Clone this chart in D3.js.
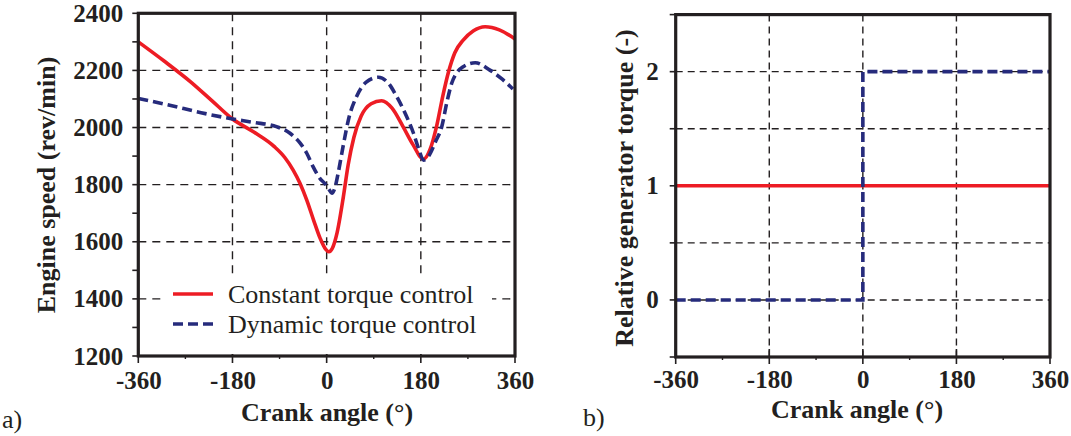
<!DOCTYPE html>
<html>
<head>
<meta charset="utf-8">
<script src="https://cdn.jsdelivr.net/npm/d3@7"></script>
<style>
  body { margin: 0; background: #fff; }
  svg { display: block; font-family: "Liberation Serif", "Times New Roman", serif; }
</style>
</head>
<body>
<svg id="chart" width="1071" height="436"></svg>
<script>
// Crank angle ticks shared by both panels
const crankTicks = [-360, -180, 0, 180, 360];
const crankMinor = [-270, -90, 90, 270];
const speedTicks = [1200, 1400, 1600, 1800, 2000, 2200, 2400];
const torqueTicks = [0, 1, 2];

const seriesNames = ["Constant torque control", "Dynamic torque control"];

// panel a) engine speed [crank angle, rev/min]
const constantSpeed = [
  [-360, 2300], [-310, 2232], [-260, 2160], [-220, 2095], [-180, 2030],
  [-140, 1985], [-100, 1933], [-80, 1895], [-64, 1851], [-51, 1805],
  [-38, 1746], [-25, 1676], [-12, 1610], [-2, 1574], [4, 1565],
  [12, 1582], [20, 1632], [32, 1758], [41, 1868], [52, 1965],
  [66, 2040], [85, 2083], [105, 2094], [125, 2068], [146, 2003],
  [165, 1940], [185, 1889], [198, 1925], [210, 2003], [222, 2110],
  [233, 2195], [245, 2262], [261, 2306], [280, 2338], [303, 2353],
  [330, 2342], [360, 2310]
];
const dynamicSpeed = [
  [-360, 2102], [-300, 2078], [-240, 2052], [-180, 2030], [-140, 2018],
  [-96, 2003], [-70, 1980], [-51, 1946], [-38, 1910], [-26, 1863],
  [-13, 1822], [-3, 1803], [4, 1785], [10, 1770], [16, 1790],
  [22, 1840], [32, 1940], [42, 2030], [57, 2108], [75, 2158],
  [99, 2176], [118, 2155], [134, 2108], [150, 2050], [166, 1980],
  [176, 1925], [185, 1886], [195, 1900], [208, 1950], [220, 2003],
  [230, 2090], [239, 2155], [250, 2195], [261, 2213], [284, 2227],
  [312, 2201], [335, 2170], [356, 2135]
];

// panel b) relative generator torque
const constantTorque = [[-360, 1], [360, 1]];
const dynamicTorque = [[-360, 0], [0, 0], [0, 2], [360, 2]];

const red = "#ed1c24";
const blue = "#262b7c";
const ink = "#231f20";

const svg = d3.select("#chart");

function panel(o) {
  const x = d3.scaleLinear().domain([-360, 360]).range(o.xr);
  const y = d3.scaleLinear().domain(o.yd).range(o.yr);
  const g = svg.append("g");

  // grid
  g.selectAll(".vgrid").data([-180, 0, 180]).enter().append("line")
    .attr("x1", d => x(d)).attr("x2", d => x(d))
    .attr("y1", o.yr[1]).attr("y2", o.yr[0])
    .attr("stroke", ink).attr("stroke-width", 1.4)
    .attr("stroke-dasharray", o.dash);
  g.selectAll(".hgrid").data(o.hgrid).enter().append("line")
    .attr("x1", o.xr[0]).attr("x2", o.xr[1])
    .attr("y1", d => y(d)).attr("y2", d => y(d))
    .attr("stroke", ink).attr("stroke-width", 1.4)
    .attr("stroke-dasharray", o.dash);

  // y ticks (outward)
  g.selectAll(".ytick").data(o.yAll).enter().append("line")
    .attr("x1", o.xr[0] - 6).attr("x2", o.xr[0])
    .attr("y1", d => y(d)).attr("y2", d => y(d))
    .attr("stroke", ink).attr("stroke-width", 1.6);
  // x ticks: major cross the axis, minor small below
  g.selectAll(".xtick").data(crankTicks).enter().append("line")
    .attr("x1", d => x(d)).attr("x2", d => x(d))
    .attr("y1", o.yr[0] - 8).attr("y2", o.yr[0] + 7)
    .attr("stroke", ink).attr("stroke-width", 1.6);
  g.selectAll(".xminor").data(crankMinor).enter().append("line")
    .attr("x1", d => x(d)).attr("x2", d => x(d))
    .attr("y1", o.yr[0]).attr("y2", o.yr[0] + 3)
    .attr("stroke", ink).attr("stroke-width", 1.4);

  // tick labels through d3 axes (plain hyphen, as in the figure)
  const fmt = d => String(d);
  const ya = g.append("g").attr("transform", `translate(${o.xr[0]},0)`)
    .call(d3.axisLeft(y).tickValues(o.yTicks).tickSize(0).tickPadding(o.yPad).tickFormat(fmt));
  const xa = g.append("g").attr("transform", `translate(0,${o.yr[0]})`)
    .call(d3.axisBottom(x).tickValues(crankTicks).tickSize(0).tickPadding(o.xPad).tickFormat(fmt));
  [ya, xa].forEach(a => {
    a.select(".domain").remove();
    a.selectAll("text").attr("font-family", "Liberation Serif").attr("font-weight", "bold")
      .attr("font-size", 25).attr("fill", ink);
  });

  const line = d3.line().x(d => x(d[0])).y(d => y(d[1]));
  return { g, x, y, line };
}

// ---- panel a)
const a = panel({
  xr: [138.3, 515], yr: [356, 13.3], yd: [1200, 2400],
  hgrid: [1400, 1600, 1800, 2000, 2200], dash: "8,6",
  yAll: d3.range(1200, 2401, 100), yTicks: speedTicks, yPad: 15, xPad: 15
});

// legend background hides grid
a.g.append("rect").attr("x", 162).attr("y", 279).attr("width", 330).attr("height", 75)
  .attr("fill", "#fff");

const curve = a.line.curve(d3.curveMonotoneX);
a.g.append("path").datum(constantSpeed).attr("d", curve)
  .attr("fill", "none").attr("stroke", red).attr("stroke-width", 3.6);
a.g.append("path").datum(dynamicSpeed).attr("d", curve)
  .attr("fill", "none").attr("stroke", blue).attr("stroke-width", 3.6)
  .attr("stroke-dasharray", "10,5");

// legend
const leg = a.g.append("g");
seriesNames.forEach((name, i) => {
  const yy = 294 + i * 30;
  leg.append("line").attr("x1", 173).attr("x2", 213).attr("y1", yy).attr("y2", yy)
    .attr("stroke", i ? blue : red).attr("stroke-width", 3.6)
    .attr("stroke-dasharray", i ? "10,5" : null);
  leg.append("text").attr("x", 228).attr("y", yy + 8.5).text(name)
    .attr("font-size", 26).attr("fill", ink);
});

a.g.append("rect").attr("x", 138.3).attr("y", 13.3).attr("width", 515 - 138.3).attr("height", 356 - 13.3)
  .attr("fill", "none").attr("stroke", ink).attr("stroke-width", 3.2);

a.g.append("text").attr("x", 327).attr("y", 421).attr("text-anchor", "middle")
  .attr("font-weight", "bold").attr("font-size", 26).attr("fill", ink).text("Crank angle (°)");
a.g.append("text").attr("transform", "translate(55,185) rotate(-90)").attr("text-anchor", "middle")
  .attr("font-weight", "bold").attr("font-size", 26).attr("fill", ink).text("Engine speed (rev/min)");
a.g.append("text").attr("x", 2).attr("y", 428).attr("font-size", 26).attr("fill", ink).text("a)");

// ---- panel b)
const b = panel({
  xr: [675.7, 1050], yr: [357, 14.6], yd: [-0.5, 2.5],
  hgrid: [0, 0.5, 1.5, 2], dash: "7,5",
  yAll: d3.range(-0.5, 2.51, 0.5), yTicks: torqueTicks, yPad: 17, xPad: 13
});

b.g.append("path").datum(constantTorque).attr("d", b.line)
  .attr("fill", "none").attr("stroke", red).attr("stroke-width", 3.6);
b.g.append("path").datum(dynamicTorque).attr("d", b.line)
  .attr("fill", "none").attr("stroke", blue).attr("stroke-width", 3.6)
  .attr("stroke-dasharray", "10,5");

b.g.append("rect").attr("x", 675.7).attr("y", 14.6).attr("width", 1050 - 675.7).attr("height", 357 - 14.6)
  .attr("fill", "none").attr("stroke", ink).attr("stroke-width", 3.2);

b.g.append("text").attr("x", 857).attr("y", 418).attr("text-anchor", "middle")
  .attr("font-weight", "bold").attr("font-size", 26).attr("fill", ink).text("Crank angle (°)");
b.g.append("text").attr("transform", "translate(633,188) rotate(-90)").attr("text-anchor", "middle")
  .attr("font-weight", "bold").attr("font-size", 26).attr("fill", ink).text("Relative generator torque (-)");
b.g.append("text").attr("x", 583).attr("y", 426).attr("font-size", 26).attr("fill", ink).text("b)");
</script>
</body>
</html>
